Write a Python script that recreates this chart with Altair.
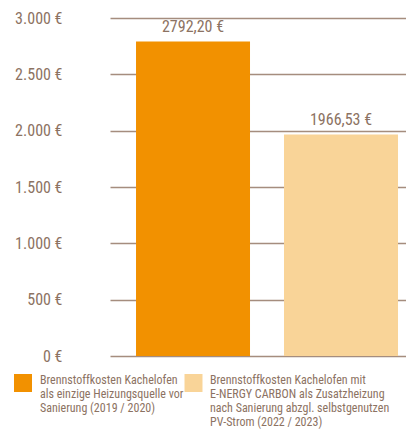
import altair as alt
import pandas as pd

categories = [
    "Brennstoffkosten Kachelofen als einzige Heizungsquelle vor Sanierung (2019 / 2020)",
    "Brennstoffkosten Kachelofen mit E-NERGY CARBON als Zusatzheizung nach Sanierung abzgl. selbstgenutzen PV-Strom (2022 / 2023)",
]
legend_lines = [
    ["Brennstoffkosten Kachelofen", "als einzige Heizungsquelle vor", "Sanierung (2019 / 2020)"],
    ["Brennstoffkosten Kachelofen mit", "E-NERGY CARBON als Zusatzheizung", "nach Sanierung abzgl. selbstgenutzen", "PV-Strom (2022 / 2023)"],
]
values = [2792.20, 1966.53]
colors = ["#f29100", "#f9d498"]
y_ticks = [0, 500, 1000, 1500, 2000, 2500, 3000]

df = pd.DataFrame({"cat": categories, "value": values})

FONT = "Roboto Condensed"
TXT = "#8c7262"
GRID = "#a58d7e"

xscale = alt.Scale(paddingInner=0.2297, paddingOuter=0.1149, align=0.765)

base = alt.Chart(df).encode(
    x=alt.X("cat:N", sort=categories, scale=xscale, axis=None),
    y=alt.Y(
        "value:Q",
        scale=alt.Scale(domain=[0, 3000], nice=False),
        axis=alt.Axis(
            values=y_ticks,
            title=None,
            domain=False,
            ticks=False,
            grid=True,
            gridColor=GRID,
            gridWidth=1.3,
            gridOpacity=1,
            labelPadding=48,
            labelFont=FONT,
            labelFontSize=16,
            labelColor=TXT,
            labelExpr="replace(format(datum.value, ','), ',', '.') + ' €'",
        ),
    ),
)

bars = base.mark_bar().encode(
    color=alt.Color(
        "cat:N",
        sort=categories,
        scale=alt.Scale(domain=categories, range=colors),
        legend=None,
    ),
)

labels = base.transform_calculate(
    lab="replace(format(datum.value, '.2f'), '.', ',') + ' €'"
).mark_text(
    baseline="bottom", dy=-6, font=FONT, fontSize=16, color=TXT
).encode(
    text="lab:N",
)

# manual legend (below the plot)
legend_layers = []
sym_x = [-87, 83.5]
txt_x = [-70, 100]
for i, lines in enumerate(legend_lines):
    ldf = pd.DataFrame({"t": [lines]})
    legend_layers.append(
        alt.Chart(ldf).mark_square(size=324, opacity=1, color=colors[i]).encode(
            x=alt.value(sym_x[i]), y=alt.value(365)
        )
    )
    legend_layers.append(
        alt.Chart(ldf).mark_text(
            align="left", baseline="alphabetic", font=FONT, fontSize=12,
            lineHeight=14, color=TXT,
        ).encode(
            x=alt.value(txt_x[i]), y=alt.value(366), text="t"
        )
    )

chart = (
    alt.layer(bars, labels, *legend_layers)
    .properties(
        width=296,
        height=338,
        background="white",
        autosize=alt.AutoSizeParams(type="none"),
        padding={"left": 102, "top": 10, "right": 0, "bottom": 74},
    )
    .configure_view(stroke=None)
)

chart.save("out.html", embed_options={"renderer": "svg", "actions": False})
